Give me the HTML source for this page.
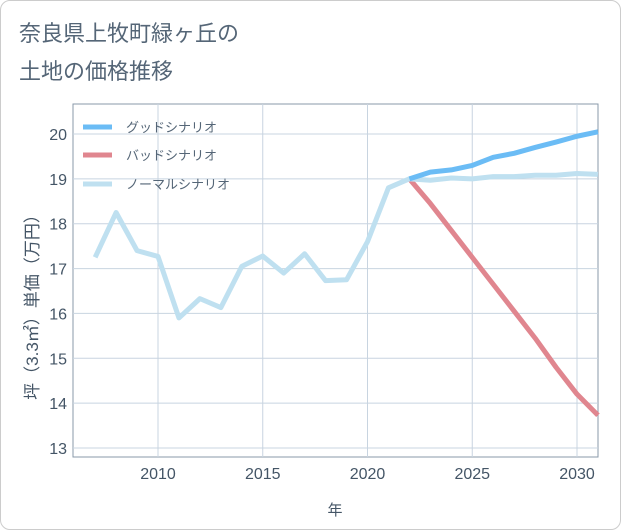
<!DOCTYPE html>
<html><head><meta charset="utf-8"><style>
body{margin:0;background:#fff;}
.wrap{position:relative;width:619px;height:528px;border:1px solid #ccc;border-radius:10px;background:#fff;overflow:hidden;}
text{font-family:"Liberation Sans","Noto Sans CJK JP",sans-serif;}
</style></head><body>
<div class="wrap">
<svg id="chart" width="621" height="530">
<text x="18" y="40" font-size="22" fill="#556677">奈良県上牧町緑ヶ丘の</text>
<text x="18" y="78" font-size="22" fill="#556677">土地の価格推移</text>
<rect x="72" y="103" width="525" height="353" fill="none" stroke="#8899aa"/>
<g id="grid"></g><g id="series"></g>
<text x="334" y="514" font-size="15" fill="#445566" text-anchor="middle">年</text>
<text transform="translate(37,302) rotate(-90)" font-size="17" fill="#445566" text-anchor="middle">坪（3.3㎡）単価（万円）</text>
<g>
<line x1="82" y1="126" x2="111" y2="126" stroke="#6bbcf5" stroke-width="5"/>
<text x="125" y="131" font-size="13" fill="#556677">グッドシナリオ</text>
<line x1="82" y1="154" x2="111" y2="154" stroke="#e0868f" stroke-width="5"/>
<text x="125" y="159" font-size="13" fill="#556677">バッドシナリオ</text>
<line x1="82" y1="183" x2="111" y2="183" stroke="#bfe0f0" stroke-width="5"/>
<text x="125" y="188" font-size="13" fill="#556677">ノーマルシナリオ</text>
</g>
</svg></div>
<script>
const normalYears=[2007,2008,2009,2010,2011,2012,2013,2014,2015,2016,2017,2018,2019,2020,2021,2022,2023,2024,2025,2026,2027,2028,2029,2030,2031];
const normalValues=[17.25,18.25,17.4,17.27,15.9,16.33,16.13,17.05,17.28,16.9,17.33,16.73,16.75,17.6,18.8,19.0,18.97,19.02,19.0,19.05,19.05,19.08,19.08,19.12,19.1];
const forecastYears=[2022,2023,2024,2025,2026,2027,2028,2029,2030,2031];
const goodValues=[19.0,19.15,19.2,19.3,19.48,19.57,19.7,19.82,19.95,20.05];
const badValues=[19.0,18.45,17.85,17.25,16.65,16.05,15.45,14.8,14.2,13.73];
const yTicks=[13,14,15,16,17,18,19,20];
const xTicks=[2010,2015,2020,2025,2030];
const NS='http://www.w3.org/2000/svg';
const X=y=>157+(y-2010)*20.95;
const Y=v=>447-(v-13)*44.857;
const grid=document.getElementById('grid'),series=document.getElementById('series');
function mk(tag,attrs,parent){const e=document.createElementNS(NS,tag);for(const k in attrs)e.setAttribute(k,attrs[k]);parent.appendChild(e);return e;}
yTicks.forEach(t=>{
 const l=mk('line',{x1:72,x2:597,y1:Y(t),y2:Y(t),stroke:'#c8d4e0'},grid);
 
 
 const tx=mk('text',{x:66,y:Y(t)+6,'font-size':16,fill:'#445566','text-anchor':'end'},grid);
 tx.textContent=t;
 
 
});
xTicks.forEach(t=>{
 const l=mk('line',{x1:X(t),x2:X(t),y1:103,y2:456,stroke:'#c8d4e0'},grid);
 
 
 const tx=mk('text',{x:X(t),y:478,'font-size':16,fill:'#445566','text-anchor':'middle'},grid);
 tx.textContent=t;
 
 
});
function line(xs,vs,color,name){
 const p=mk('polyline',{points:xs.map((x,i)=>X(x)+','+Y(vs[i])).join(' '),fill:'none',stroke:color,'stroke-width':5,'stroke-linejoin':'round'},series);
 
 
}
line(forecastYears,badValues,'#e0868f','bad-scenario-line');
line(normalYears,normalValues,'#bfe0f0','normal-scenario-line');
line(forecastYears,goodValues,'#6bbcf5','good-scenario-line');
</script>
</body></html>
